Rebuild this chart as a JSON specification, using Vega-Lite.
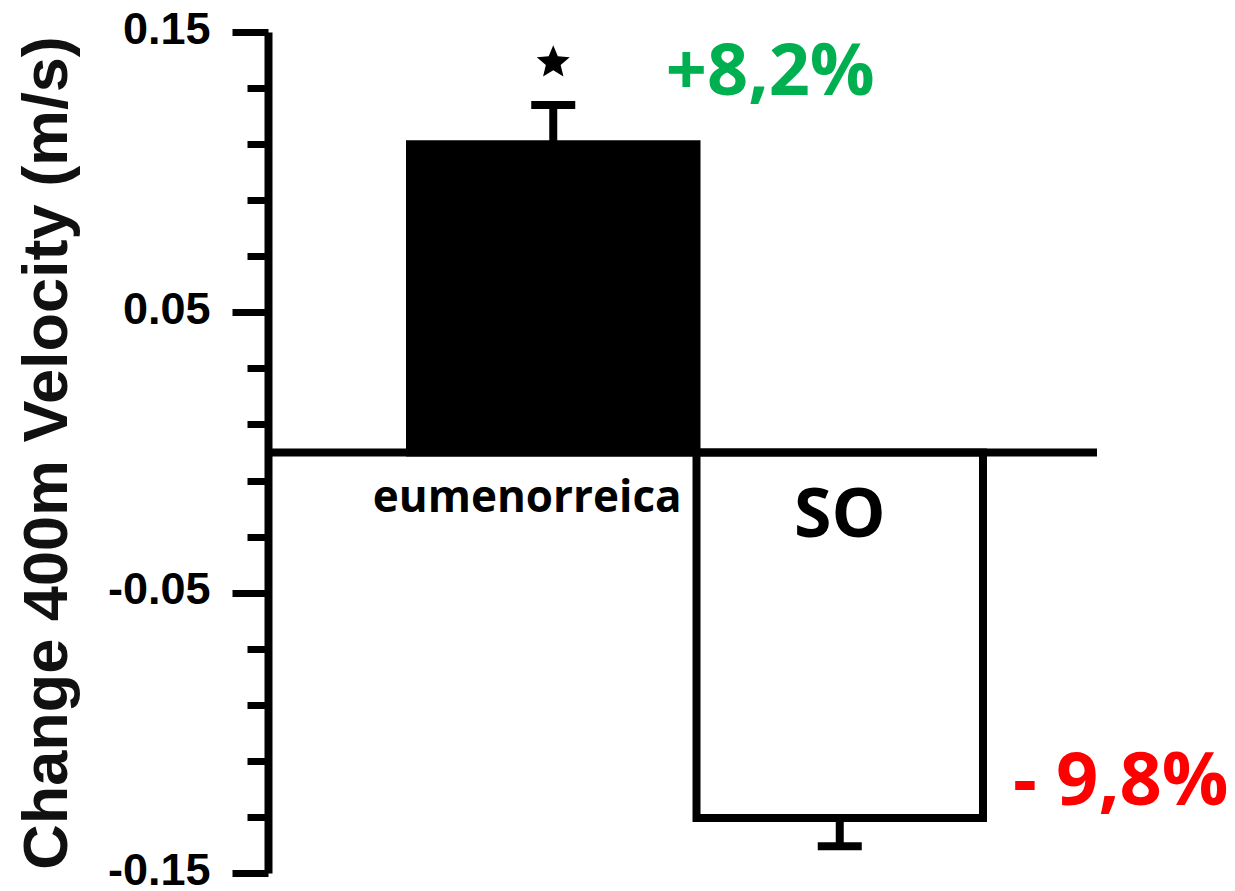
{
  "$schema": "https://vega.github.io/schema/vega-lite/v6.json",
  "width": 829,
  "height": 841,
  "autosize": {"type": "none"},
  "padding": {"left": 268, "top": 32, "right": 138, "bottom": 18},
  "background": "white",
  "config": {"view": {"stroke": null}},
  "datasets": {
    "bars": [
      {"group": "eumenorreica", "change": 0.110, "errorEnd": 0.124},
      {"group": "SO", "change": -0.1304, "errorEnd": -0.1405}
    ],
    "labels": [
      {"group": "eumenorreica", "text": "eumenorreica", "y": -0.0212},
      {"group": "SO", "text": "SO", "y": -0.0301},
      {"group": "eumenorreica", "text": "+8,2%", "y": 0.1275},
      {"group": "SO", "text": "- 9,8%", "y": -0.1258}
    ],
    "significance": [
      {"group": "eumenorreica", "y": 0.1391}
    ],
    "baseline": [
      {"ref": 0}
    ]
  },
  "layer": [
    {
      "data": {"name": "bars"},
      "mark": {"type": "bar", "stroke": "black", "strokeWidth": 8},
      "encoding": {
        "x": {"field": "group", "type": "nominal", "scale": {"domain": ["eumenorreica", "SO"], "paddingInner": 0, "paddingOuter": 0.4468, "align": 0.5547}, "axis": null},
        "y": {
          "field": "change", "type": "quantitative",
          "scale": {"domain": [-0.15, 0.15], "nice": false, "zero": false},
          "axis": {
            "values": [-0.15, -0.05, 0.05, 0.15],
            "format": ".2f",
            "labelExpr": "replace(datum.label, '−', '-')",
            "labelFont": "Liberation Sans",
            "labelFontWeight": "bold",
            "labelFontSize": 45,
            "labelColor": "black",
            "labelPadding": 22,
            "labelOffset": -3,
            "tickSize": 36,
            "tickWidth": 7,
            "tickColor": "black",
            "domainWidth": 8,
            "domainColor": "black",
            "grid": false,
            "title": "Change 400m Velocity (m/s)",
            "titleFont": "Liberation Sans",
            "titleFontWeight": "bold",
            "titleFontSize": 63,
            "titleColor": "#111111",
            "titlePadding": 28,
            "orient": "left"
          }
        },
        "color": {"field": "group", "type": "nominal", "scale": {"domain": ["eumenorreica", "SO"], "range": ["black", "white"]}, "legend": null}
      }
    },
    {
      "data": {"name": "bars"},
      "mark": {"type": "rule", "strokeWidth": 8, "color": "black"},
      "encoding": {
        "x": {"field": "group", "type": "nominal", "axis": null},
        "y": {
          "field": "change", "type": "quantitative",
          "axis": {
            "values": [0.13, 0.11, 0.09, 0.07, 0.03, 0.01, -0.01, -0.03, -0.07, -0.09, -0.11, -0.13],
            "labels": false,
            "domain": false,
            "grid": false,
            "tickSize": 21,
            "tickWidth": 7,
            "tickColor": "black",
            "title": null,
            "orient": "left"
          }
        },
        "y2": {"field": "errorEnd"}
      }
    },
    {
      "data": {"name": "bars"},
      "mark": {"type": "tick", "orient": "horizontal", "size": 44, "thickness": 8, "color": "black", "opacity": 1},
      "encoding": {
        "x": {"field": "group", "type": "nominal", "axis": null},
        "y": {"field": "errorEnd", "type": "quantitative", "axis": null}
      }
    },
    {
      "data": {"name": "baseline"},
      "mark": {"type": "rule", "strokeWidth": 8, "color": "black"},
      "encoding": {
        "y": {"field": "ref", "type": "quantitative", "axis": null}
      }
    },
    {
      "data": {"name": "significance"},
      "mark": {"type": "point", "shape": "M0,-1L0.265,-0.364L0.951,-0.309L0.428,0.139L0.588,0.809L0,0.45L-0.588,0.809L-0.428,0.139L-0.951,-0.309L-0.265,-0.364Z", "filled": true, "color": "black", "size": 1200, "opacity": 1},
      "encoding": {
        "x": {"field": "group", "type": "nominal", "axis": null},
        "y": {"field": "y", "type": "quantitative", "axis": null}
      }
    },
    {
      "data": {"name": "labels"},
      "transform": [{"filter": "datum.text == 'eumenorreica'"}],
      "mark": {"type": "text", "font": "Open Sans", "fontWeight": "bold", "fontSize": 44, "color": "black", "align": "center", "baseline": "alphabetic", "dx": -26},
      "encoding": {
        "x": {"field": "group", "type": "nominal", "axis": null},
        "y": {"field": "y", "type": "quantitative", "axis": null},
        "text": {"field": "text"}
      }
    },
    {
      "data": {"name": "labels"},
      "transform": [{"filter": "datum.text == 'SO'"}],
      "mark": {"type": "text", "font": "Open Sans", "fontWeight": "bold", "fontSize": 68, "color": "black", "align": "center", "baseline": "alphabetic"},
      "encoding": {
        "x": {"field": "group", "type": "nominal", "axis": null},
        "y": {"field": "y", "type": "quantitative", "axis": null},
        "text": {"field": "text"}
      }
    },
    {
      "data": {"name": "labels"},
      "transform": [{"filter": "datum.text == '+8,2%'"}],
      "mark": {"type": "text", "font": "Open Sans", "fontWeight": "bold", "fontSize": 72, "color": "#00B050", "align": "center", "baseline": "alphabetic", "dx": 217},
      "encoding": {
        "x": {"field": "group", "type": "nominal", "axis": null},
        "y": {"field": "y", "type": "quantitative", "axis": null},
        "text": {"field": "text"}
      }
    },
    {
      "data": {"name": "labels"},
      "transform": [{"filter": "datum.text == '- 9,8%'"}],
      "mark": {"type": "text", "font": "Open Sans", "fontWeight": "bold", "fontSize": 74, "color": "#FF0000", "align": "center", "baseline": "alphabetic", "dx": 281},
      "encoding": {
        "x": {"field": "group", "type": "nominal", "axis": null},
        "y": {"field": "y", "type": "quantitative", "axis": null},
        "text": {"field": "text"}
      }
    }
  ],
  "resolve": {"axis": {"y": "independent"}}
}
